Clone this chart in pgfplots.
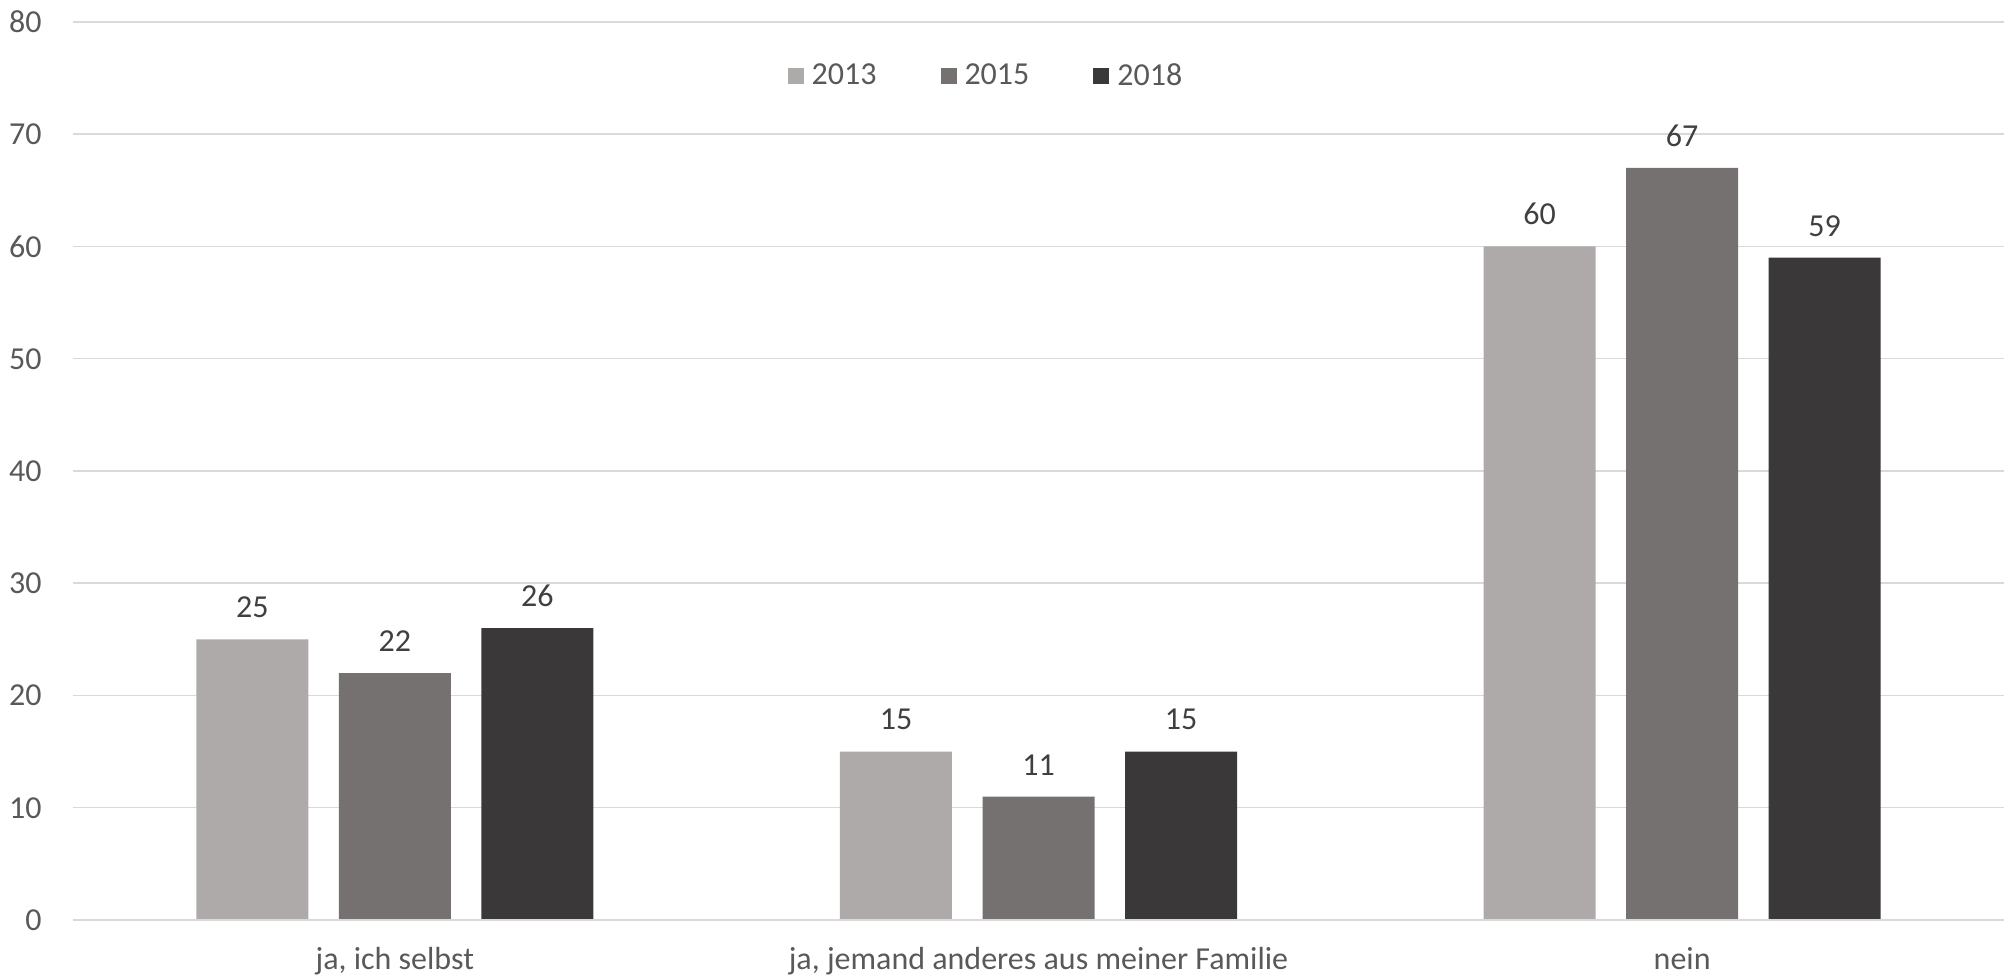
\documentclass[border=0pt]{standalone}
\usepackage{pgfplots}
\pgfplotsset{compat=1.18}
\usepackage{fontspec}
\setmainfont{Carlito}
\definecolor{cA}{HTML}{AEAAAA}
\definecolor{cB}{HTML}{757171}
\definecolor{cC}{HTML}{3A3838}
\definecolor{gridc}{HTML}{D9D9D9}
\definecolor{tickc}{HTML}{595959}
\definecolor{labc}{HTML}{404040}
\begin{document}
\begin{tikzpicture}
\begin{axis}[
  at={(0,0)}, anchor=south west,
  scale only axis,
  width=965.5pt, height=449pt,
  xmin=-0.5, xmax=2.5, ymin=0, ymax=80,
  ytick={0,10,...,80},
  xtick={0,1,2},
  xticklabels={ja{,} ich selbst, {ja, jemand anderes aus meiner Familie}, nein},
  axis line style={draw=none},
  axis x line*=bottom,
  ymajorgrids, grid style={gridc, line width=0.75pt},
  major tick length=0pt,
  tick style={draw=none},
  font=\fontsize{16pt}{19pt}\selectfont,
  ticklabel style={font=\fontsize{16pt}{19pt}\selectfont, text=tickc},
  /pgf/number format/assume math mode=true,
  yticklabel style={anchor=east, inner sep=0pt, xshift=-15.5pt},
  xticklabel style={anchor=base, inner sep=0pt, yshift=-25pt},
  ybar, bar width=0.174,
  nodes near coords,
  every node near coord/.append style={font=\fontsize{16pt}{19pt}\selectfont, text=labc, anchor=south, inner sep=0pt, yshift=10.5pt},
  legend style={at={(0.4733,0.94)}, anchor=center, draw=none, fill=none,
    legend columns=3, font=\fontsize{16pt}{19pt}\selectfont, text=tickc,
    /tikz/every even column/.append style={column sep=30pt}},
  legend image code/.code={\fill[#1] (0pt,-4pt) rectangle (8pt,4pt); \path (10pt,0pt);},
  clip=false,
]
\addplot[fill=cA, draw=none, bar shift=-0.2214] coordinates {(0,25) (1,15) (2,60)};
\addplot[fill=cB, draw=none, bar shift=0] coordinates {(0,22) (1,11) (2,67)};
\addplot[fill=cC, draw=none, bar shift=0.2214] coordinates {(0,26) (1,15) (2,59)};
\draw[gridc, line width=0.75pt] (rel axis cs:0,0) -- (rel axis cs:1,0);
\legend{2013,2015,2018}
\end{axis}
\pgfresetboundingbox
\useasboundingbox (-36.5pt,-28.5pt) rectangle (965.5pt,460pt);
\end{tikzpicture}
\end{document}
